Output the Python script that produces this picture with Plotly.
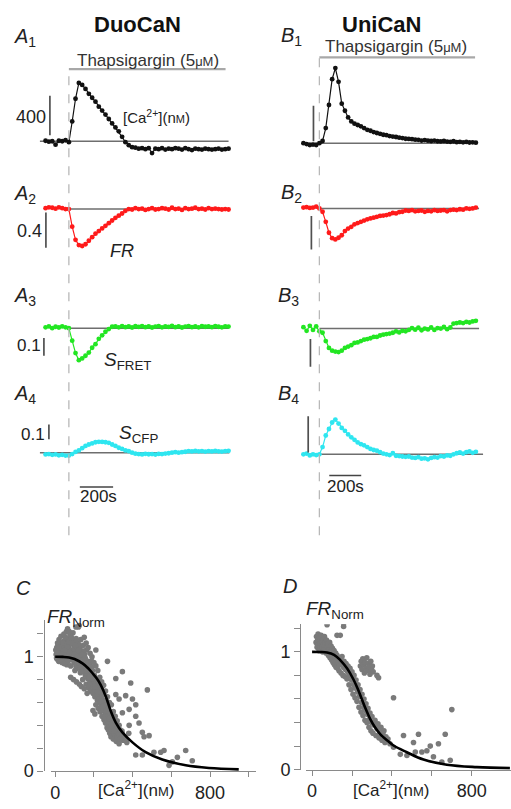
import plotly.graph_objects as go

# ---------------- DATA ----------------
# time grids (s, relative to thapsigargin application)
t_A = list(range(-140, 961, 20))
t_B = list(range(-100, 981, 20))

# DuoCaN traces
ca_A1 = [5, -5, 0, -35, 5, 0, 10, -10, 200, 430,
         590, 570, 530, 480, 440, 400, 350, 310, 270, 225,
         180, 140, 100, 45, -10, -40, -60, -65, -75, -70,
         -80, -70, -120, -75, -80, -70, -85, -75, -80, -70,
         -75, -85, -70, -80, -90, -75, -80, -85, -75, -80,
         -85, -80, -75, -85, -80, -75]
fr_A2 = [0.01, 0.02, 0.015, 0.005, 0.02, 0.01, 0.0, 0.0, -0.20, -0.35,
         -0.41, -0.42, -0.40, -0.36, -0.32, -0.28, -0.25, -0.22, -0.19, -0.16,
         -0.13, -0.10, -0.075, -0.05, -0.02, 0.0, -0.005, 0.01, 0.0, 0.005,
         -0.01, 0.0, 0.01, -0.005, 0.0, 0.01, 0.005, -0.005, 0.015, 0.0,
         0.005, -0.01, 0.01, 0.0, 0.005, 0.015, 0.0, 0.005, -0.005, 0.01,
         0.0, 0.005, 0.0, -0.005, 0.0, -0.005]
sfret_A3 = [0.005, 0.01, 0.0, 0.008, 0.004, 0.01, 0.005, 0.0, -0.07, -0.14,
            -0.18, -0.17, -0.155, -0.137, -0.11, -0.09, -0.06, -0.04, -0.02, -0.005,
            0.008, 0.01, 0.005, 0.012, 0.006, 0.01, 0.004, 0.011, 0.007, 0.012,
            0.006, 0.01, 0.004, 0.009, 0.012, 0.005, 0.01, 0.007, 0.013, 0.006,
            0.01, 0.004, 0.009, 0.012, 0.006, 0.01, 0.005, 0.011, 0.008, 0.01,
            0.006, 0.012, 0.008, 0.005, 0.01, 0.009]
scfp_A4 = [-0.012, -0.01, -0.015, -0.012, -0.018, -0.015, -0.02, -0.02, -0.01, 0.005,
           0.015, 0.03, 0.045, 0.055, 0.062, 0.07, 0.073, 0.072, 0.07, 0.066,
           0.055, 0.045, 0.033, 0.025, 0.015, 0.01, 0.0, -0.007, -0.01, -0.012,
           -0.008, -0.011, -0.01, -0.013, -0.009, -0.01, -0.006, -0.004, 0.0, 0.003,
           0.0, 0.003, 0.006, 0.01, 0.008, 0.011, 0.009, 0.01, 0.007, 0.01,
           0.008, 0.011, 0.009, 0.007, 0.01, 0.012]

# UniCaN traces
ca_B1 = [0, -10, -20, -15, -20, 0, 25, 170, 430, 720,
         845, 690, 445, 365, 290, 245, 220, 205, 190, 170,
         150, 140, 125, 115, 105, 95, 90, 80, 75, 70,
         62, 58, 50, 48, 45, 40, 38, 30, 35, 28,
         25, 30, 22, 20, 25, 18, 15, 22, 12, 15,
         10, 14, 8, 10, 6]
fr_B2 = [0.01, 0.015, 0.005, 0.01, 0.02, 0.0, -0.04, -0.16, -0.29, -0.355,
         -0.37, -0.35, -0.32, -0.27, -0.24, -0.22, -0.19, -0.175, -0.16, -0.145,
         -0.13, -0.12, -0.11, -0.10, -0.09, -0.085, -0.08, -0.07, -0.055, -0.06,
         -0.045, -0.04, -0.025, -0.03, -0.02, -0.035, -0.03, -0.025, -0.04, -0.03,
         -0.035, -0.02, -0.03, -0.025, -0.02, -0.035, -0.02, -0.015, -0.02, -0.01,
         -0.015, 0.0, -0.005, 0.0, 0.01]
sfret_B3 = [0.005, -0.008, 0.01, -0.005, 0.008, -0.01, -0.015, -0.045, -0.07, -0.08,
            -0.083, -0.085, -0.08, -0.07, -0.065, -0.06, -0.052, -0.05, -0.045, -0.04,
            -0.038, -0.035, -0.03, -0.03, -0.025, -0.022, -0.02, -0.018, -0.015, -0.01,
            -0.014, -0.008, -0.01, -0.005, 0.002, -0.004, 0.003, -0.006, 0.0, -0.003,
            0.004, -0.005, 0.002, 0.0, 0.006, -0.002, 0.004, 0.018, 0.02, 0.022,
            0.02, 0.024, 0.022, 0.026, 0.028]
scfp_B4 = [0.0, 0.002, -0.003, 0.0, -0.002, 0.0, 0.02, 0.052, 0.07, 0.088,
           0.096, 0.085, 0.073, 0.065, 0.055, 0.047, 0.04, 0.033, 0.028, 0.025,
           0.02, 0.015, 0.012, 0.01, 0.006, 0.002, 0.0, -0.002, 0.003, -0.004,
           -0.005, -0.006, -0.007, -0.006, -0.009, -0.01, -0.008, -0.012, -0.011, -0.014,
           -0.01, -0.008, -0.009, -0.005, -0.006, -0.003, -0.004, 0.0, 0.003, 0.005,
           0.002, 0.006, 0.008, 0.004, 0.007]

# scale-bar values (data units)
scalebar_A = {"ca": 400, "fr": 0.4, "sfret": 0.1, "scfp": 0.1}
scalebar_B = {"ca": 400, "fr": 0.4, "sfret": 0.1, "scfp": 0.1}
scalebar_time = 200

# C: DuoCaN FR_Norm vs [Ca2+] (nM)
pts_C = [(5,1.02),(8,1.08),(10,0.98),(12,1.12),(15,1.05),(18,0.96),(20,1.15),(22,1.01),(25,1.09),(28,0.99),
         (30,1.18),(32,1.04),(35,0.95),(38,1.12),(40,1.07),(42,1.00),(45,1.20),(48,1.14),(50,0.97),(52,1.05),
         (55,1.10),(58,1.22),(60,0.93),(62,1.02),(65,1.16),(68,1.08),(70,0.98),(72,1.22),(75,1.12),(78,1.04),
         (80,0.92),(82,1.18),(85,1.06),(88,0.99),(90,1.14),(92,1.21),(95,1.02),(98,0.95),(100,1.10),
         (102,0.88),(105,1.05),(108,1.16),(110,0.97),(112,1.08),(115,0.90),(118,1.12),(120,1.26),(122,1.00),(125,0.93),
         (128,1.07),(130,0.86),(132,1.15),(135,0.98),(138,1.03),(140,0.91),(142,0.80),(145,1.10),(148,0.95),(150,0.88),
         (152,1.02),(155,0.84),(158,0.93),(160,0.76),(162,1.06),(165,0.89),(168,0.81),(170,0.96),(172,0.73),(175,0.86),
         (178,0.92),(180,0.78),(182,0.70),(185,0.84),(188,0.96),(190,0.75),(192,0.88),(195,0.68),(198,0.80),(200,0.72),
         (202,0.84),(205,0.65),(208,0.77),(210,0.58),(212,0.70),(215,0.80),(218,0.62),(220,0.73),(222,0.55),(225,0.67),
         (228,0.76),(230,0.60),(232,0.52),(235,0.64),(238,0.71),(240,0.56),(242,0.48),(245,0.62),(248,0.53),(250,0.68),
         (252,0.45),(255,0.58),(258,0.50),(260,0.42),(262,0.62),(265,0.47),(268,0.38),(270,0.55),(272,0.44),(275,0.36),
         (278,0.51),(280,0.40),(282,0.33),(285,0.46),(288,0.30),(290,0.42),(295,0.35),(300,0.28),(305,0.38),(310,0.32),
         (315,0.26),(320,0.35),(325,0.29),(330,0.24),(340,0.31),(350,0.27),(360,0.30),(370,0.25),(380,0.33),
         (3,1.06),(7,0.99),(14,1.10),(17,1.03),(24,0.97),(27,1.13),(33,1.08),(37,1.01),(44,1.04),(47,0.94),
         (53,1.17),(57,1.00),(63,1.09),(67,0.96),(73,1.04),(77,1.19),(83,1.00),(87,1.11),(93,0.97),(97,1.07),
         (103,1.13),(107,0.92),(113,1.02),(117,0.95),(123,1.10),(127,0.90),(133,1.04),(137,0.87),(143,0.99),(147,1.05),
         (153,0.91),(157,0.97),(163,0.83),(167,0.94),(173,0.90),(177,0.80),(183,0.77),(187,0.91),(193,0.82),(197,0.74),
         (203,0.78),(207,0.70),(213,0.74),(217,0.67),(223,0.79),(227,0.63),(233,0.69),(237,0.58),(243,0.66),(247,0.60),
         (253,0.55),(257,0.47),(263,0.52),(267,0.58),(273,0.49),(277,0.43),(283,0.50),(287,0.37),(293,0.44),(297,0.39),
         (303,0.33),(308,0.42),(313,0.36),(318,0.30),(323,0.39),(328,0.33),(335,0.28),(345,0.35),(355,0.30),(365,0.27),
         (290,0.58),(300,0.52),(310,0.48),(320,0.44),(330,0.40),(335,0.36),(345,0.33),(280,0.60),(270,0.65),(260,0.70),
         (250,0.75),(240,0.78),(230,0.82),(220,0.88),(210,0.92),(200,0.95),(190,1.00),(180,1.03),(170,1.08),(160,1.12),
         (150,1.17),(80,0.82),(95,0.80),(110,0.78),(125,0.76),(135,0.74),(150,0.72),(165,0.68),(195,0.53),(205,0.50),
         (64,1.245),(72,1.216),(107,1.26),(124,1.274),
         (10,1.04),(20,1.08),(30,1.0),(40,1.12),(50,1.06),(60,1.1),(70,1.13),(85,1.16),(100,1.02),(115,1.0),
         (130,0.97),(145,0.93),(160,0.88),(175,0.82),(190,0.81),(205,0.74),(220,0.69),(235,0.61),(250,0.57),(265,0.53),
         (278,0.46),(292,0.40),(305,0.35),(88,1.12),(105,1.1),(120,1.06),(140,1.02),(155,0.99),(170,0.92),(185,0.88),
         (313,0.81),(347,0.87),(390,0.77),(399,0.63),(416,0.58),(382,0.54),(416,0.48),(450,0.34),(485,0.31),(476,0.71),
         (510,0.165),(545,0.165),(562,0.18),(605,0.08),(631,0.12),(674,0.18),(708,0.09),(450,0.14),(416,0.14),(270,0.96),
         (210,1.06),(313,0.67),(330,0.63),(364,0.66),(347,0.51),(382,0.40),(433,0.42),(459,0.30),(588,0.05)]
fitC_ca = [0, 40, 72, 100, 141, 170, 193, 215, 235, 261, 287, 313, 347, 399, 467, 553, 674, 794, 948]
fitC_fr = [1.0, 0.999, 0.994, 0.98, 0.942, 0.9, 0.856, 0.81, 0.755, 0.655, 0.525, 0.424, 0.338, 0.251, 0.165, 0.101, 0.05, 0.027, 0.015]

# D: UniCaN FR_Norm vs [Ca2+] (nM)
pts_D = [(20,1.08),(22,1.13),(25,1.04),(28,1.10),(30,1.15),(32,1.06),(35,1.01),(38,1.12),(40,1.07),(42,1.03),
         (45,1.14),(48,1.09),(50,1.04),(52,1.00),(55,1.11),(58,1.06),(60,1.02),(62,1.13),(65,1.08),(68,1.03),
         (70,0.99),(72,1.10),(75,1.05),(78,1.00),(80,1.07),(82,0.97),(85,1.02),(88,1.08),(90,0.95),(92,1.00),
         (95,1.05),(98,0.93),(100,0.98),(102,1.03),(105,0.91),(108,0.97),(110,1.01),(112,0.89),(115,0.95),(118,0.99),
         (120,0.87),(122,0.93),(125,0.97),(128,0.86),(130,0.91),(132,0.95),(135,0.84),(138,0.89),(140,0.94),
         (145,0.82),(148,0.90),(150,0.96),(155,0.80),(158,0.87),(160,0.92),(165,0.79),(168,0.85),(170,0.90),(175,0.77),
         (178,0.83),(180,0.88),(185,0.72),(188,0.80),(190,0.86),(195,0.68),(198,0.76),(200,0.83),(205,0.64),(208,0.72),
         (210,0.80),(215,0.61),(218,0.69),(220,0.76),(225,0.58),(228,0.66),(230,0.72),(235,0.53),(238,0.62),(240,0.68),
         (245,0.49),(248,0.57),(250,0.64),(255,0.46),(258,0.53),(260,0.60),(265,0.42),(268,0.50),(270,0.56),(275,0.40),
         (278,0.47),(280,0.52),(285,0.36),(288,0.43),(290,0.48),(295,0.33),(298,0.40),(300,0.45),(305,0.31),(310,0.38),
         (315,0.42),(320,0.29),(325,0.35),(330,0.39),(335,0.27),(340,0.32),(345,0.36),(350,0.25),(355,0.30),(360,0.33),
         (365,0.23),(370,0.28),(380,0.26),(390,0.22),
         (242,0.88),(246,0.92),(250,0.85),(254,0.94),(258,0.89),(262,0.82),(266,0.91),(270,0.86),(274,0.95),(278,0.84),
         (282,0.90),(286,0.87),(290,0.81),(294,0.92),(298,0.85),(302,0.88),(306,0.83),
         (75,1.23),(125,1.14),(141,1.14),(158,1.24),(158,1.215),
         (325,0.80),(333,0.78),(408,0.61),(700,0.51),(458,0.29),(533,0.30),(508,0.23),(592,0.20),(633,0.22),(667,0.30),
         (550,0.15),(575,0.16),(517,0.15),(692,0.08),(650,0.064),(608,0.11),(475,0.12),(408,0.19),(442,0.13)]
fitD_ca = [0, 40, 75, 110, 141, 175, 208, 230, 250, 270, 292, 315, 342, 375, 408, 475, 558, 675, 825, 991]
fitD_fr = [1.0, 0.999, 0.995, 0.975, 0.93, 0.86, 0.763, 0.68, 0.595, 0.51, 0.427, 0.36, 0.30, 0.25, 0.205, 0.148, 0.086, 0.042, 0.022, 0.013]

xticks_conc = [0, 200, 400, 600, 800, 1000]
xticklabels_conc = ["0", "", "", "", "800", ""]
yticks_norm = [0, 0.2, 0.4, 0.6, 0.8, 1.0, 1.2]
yticklabels_norm = ["0", "", "", "", "", "1", ""]

# ---------------- LAYOUT HELPERS ----------------
W, H = 511, 809
FONT = "Liberation Sans, Arial, sans-serif"
RED, GREEN, CYAN, BLACK = "#ff1a1a", "#22e622", "#2ee6f0", "#111111"
BASE_C, BAR_C, DASH_C, THAP_C = "#6e6e6e", "#505050", "#b8b8b8", "#a8a8a8"


def fx(px):
    return px / W


def fy(py):
    return 1 - py / H


def ref(i, k):
    return k + ("" if i == 1 else str(i))


def axkey(i, k):
    return k + "axis" + ("" if i == 1 else str(i))


layout = dict(width=W, height=H, margin=dict(l=0, r=0, t=0, b=0),
              paper_bgcolor="white", plot_bgcolor="rgba(0,0,0,0)",
              showlegend=False, font=dict(family=FONT, color="#222"))
fig = go.Figure()


def trace_panel(i, x0, s, xl, xr, base, k, yt, yb):
    layout[axkey(i, "x")] = dict(domain=[fx(xl), fx(xr)], range=[(xl - x0) * s, (xr - x0) * s],
                                 visible=False, anchor=ref(i, "y"))
    layout[axkey(i, "y")] = dict(domain=[fy(yb), fy(yt)], range=[(base - yb) / k, (base - yt) / k],
                                 visible=False, anchor=ref(i, "x"))


# column A: t=0 at x=68px, 6 s/px ; column B: t=0 at x=319px, 6.25 s/px
panels = [
    (1, 68, 6.0, 35, 235, 143.0, 0.1, 70, 160),
    (2, 68, 6.0, 35, 235, 211.7, 89, 195, 262),
    (3, 68, 6.0, 35, 235, 332.3, 180, 318, 372),
    (4, 68, 6.0, 35, 235, 458.3, 150, 425, 472),
    (5, 319, 6.25, 298, 490, 145.0, 0.09, 58, 158),
    (6, 319, 6.25, 298, 490, 211.0, 85, 195, 262),
    (7, 319, 6.25, 298, 490, 332.7, 280, 318, 378),
    (8, 319, 6.25, 298, 490, 460.0, 366, 415, 472),
]
for p in panels:
    trace_panel(*p)

series = [
    (1, t_A, ca_A1, BLACK, (-174, 960)),
    (2, t_A, fr_A2, RED, (0, 960)),
    (3, t_A, sfret_A3, GREEN, (0, 960)),
    (4, t_A, scfp_A4, CYAN, (-174, 965)),
    (5, t_B, ca_B1, BLACK, (-100, 985)),
    (6, t_B, fr_B2, RED, (0, 1000)),
    (7, t_B, sfret_B3, GREEN, (0, 1000)),
    (8, t_B, scfp_B4, CYAN, (-100, 1025)),
]
for i, t, v, col, (b0, b1) in series:
    assert len(t) == len(v), (i, len(t), len(v))
    fig.add_trace(go.Scatter(x=[b0, b1], y=[0, 0], mode="lines", xaxis=ref(i, "x"), yaxis=ref(i, "y"),
                             line=dict(color=BASE_C, width=1.5), hoverinfo="skip"))
    fig.add_trace(go.Scatter(x=t, y=v, mode="lines+markers", xaxis=ref(i, "x"), yaxis=ref(i, "y"),
                             line=dict(color=col, width=1.2), marker=dict(color=col, size=4.8),
                             cliponaxis=False))

# vertical scale bars (x position in s, value range)
bars = [
    (1, -114, 60, 60 + scalebar_A["ca"]),
    (2, -138, -0.04, -0.04 - scalebar_A["fr"]),
    (3, -150, -0.055, -0.055 - scalebar_A["sfret"]),
    (4, -120, 0.09, 0.09 + scalebar_A["scfp"]),
    (5, -37, 22, 22 + scalebar_B["ca"]),
    (6, -50, -0.09, -0.09 - scalebar_B["fr"]),
    (7, -56, -0.038, -0.038 - scalebar_B["sfret"]),
    (8, -70, 0.005, 0.005 + scalebar_B["scfp"]),
]
for i, tb, v0, v1 in bars:
    fig.add_trace(go.Scatter(x=[tb, tb], y=[v0, v1], mode="lines", xaxis=ref(i, "x"), yaxis=ref(i, "y"),
                             line=dict(color=BAR_C, width=1.7), hoverinfo="skip"))

shapes = []
# dashed stimulus lines
shapes.append(dict(type="line", xref="x", yref="paper", x0=0, x1=0, y0=fy(542), y1=fy(70),
                   line=dict(color=DASH_C, width=1.3, dash="dash")))
shapes.append(dict(type="line", xref="x5", yref="paper", x0=0, x1=0, y0=fy(542), y1=fy(58),
                   line=dict(color=DASH_C, width=1.3, dash="dash")))
# thapsigargin bars
shapes.append(dict(type="line", xref="x", yref="paper", x0=0, x1=942, y0=fy(70), y1=fy(70),
                   line=dict(color=THAP_C, width=2.2)))
shapes.append(dict(type="line", xref="x5", yref="paper", x0=0, x1=975, y0=fy(58), y1=fy(58),
                   line=dict(color=THAP_C, width=2.2)))
# time scale bars
shapes.append(dict(type="line", xref="x4", yref="paper", x0=66, x1=66 + scalebar_time, y0=fy(493), y1=fy(493),
                   line=dict(color="#444", width=1.5)))
shapes.append(dict(type="line", xref="x8", yref="paper", x0=62, x1=62 + scalebar_time, y0=fy(481.5), y1=fy(481.5),
                   line=dict(color="#444", width=1.5)))

# ---- C and D scatter panels ----
AXC = "#8a8a8a"


def conc_panel(i, xl, xr, x0px, pxper, ylinepx, ytop, yzero, pxunit):
    layout[axkey(i, "x")] = dict(domain=[fx(xl), min(1.0, fx(xr))],
                                 range=[(xl - x0px) / pxper, (xr - x0px) / pxper],
                                 anchor=ref(i, "y"), showline=True, linecolor=AXC, linewidth=1.4,
                                 ticks="outside", ticklen=5, tickwidth=1.4, tickcolor=AXC,
                                 tickvals=xticks_conc, ticktext=xticklabels_conc,
                                 tickfont=dict(size=18, color="#222", family=FONT),
                                 showgrid=False, zeroline=False)
    layout[axkey(i, "y")] = dict(domain=[fy(yzero), fy(ytop)], range=[0, (yzero - ytop) / pxunit],
                                 anchor="free", position=fx(ylinepx),
                                 showline=True, linecolor=AXC, linewidth=1.4,
                                 ticks="outside", ticklen=6, tickwidth=1.4, tickcolor=AXC,
                                 tickvals=yticks_norm, ticktext=yticklabels_norm,
                                 tickfont=dict(size=18, color="#222", family=FONT),
                                 showgrid=False, zeroline=False)


conc_panel(9, 50, 256, 54.3, 0.194, 42.7, 628, 780.7, 115.7)
conc_panel(10, 306, 511, 311.7, 0.2, 300, 632, 779.3, 119.3)

for i, pts, fca, ffr in [(9, pts_C, fitC_ca, fitC_fr), (10, pts_D, fitD_ca, fitD_fr)]:
    fig.add_trace(go.Scatter(x=[p[0] for p in pts], y=[p[1] for p in pts], mode="markers",
                             xaxis=ref(i, "x"), yaxis=ref(i, "y"),
                             marker=dict(color="#7a7a7a", size=5.6)))
    fig.add_trace(go.Scatter(x=fca, y=ffr, mode="lines", xaxis=ref(i, "x"), yaxis=ref(i, "y"),
                             line=dict(color="#000", width=2.6, shape="spline"), hoverinfo="skip"))

# ---------------- TEXT ----------------
ann = []


def A(text, xpx, ypx, size, xanchor="center", color="#222"):
    ann.append(dict(text=text, x=fx(xpx), y=fy(ypx), xref="paper", yref="paper", showarrow=False,
                    xanchor=xanchor, yanchor="middle", font=dict(size=size, color=color, family=FONT)))


A("<b>DuoCaN</b>", 137, 25, 22, color="#111")
A("<b>UniCaN</b>", 381, 25, 22, color="#111")
for lab, xp, yp in [("<i>A</i><sub>1</sub>", 11, 38), ("<i>A</i><sub>2</sub>", 11, 197),
                    ("<i>A</i><sub>3</sub>", 11, 300), ("<i>A</i><sub>4</sub>", 11, 399),
                    ("<i>B</i><sub>1</sub>", 279, 37), ("<i>B</i><sub>2</sub>", 279, 196),
                    ("<i>B</i><sub>3</sub>", 276, 300), ("<i>B</i><sub>4</sub>", 276, 399)]:
    A(lab, xp, yp, 20, xanchor="left")
A("<i>C</i>", 13, 595, 20, xanchor="left")
A("<i>D</i>", 281, 593, 20, xanchor="left")

A("Thapsigargin (5" + "<span style='font-size:13px'>\u03bcM</span>" + ")", 147, 61, 17, color="#333")
A("Thapsigargin (5" + "<span style='font-size:13px'>\u03bcM</span>" + ")", 396, 47, 17, color="#333")
A("400", 47, 118, 18, xanchor="right")
A("0.4", 43, 234, 18, xanchor="right")
A("0.1", 42, 350, 17, xanchor="right")
A("0.1", 46, 440, 17, xanchor="right")
A("[Ca<sup>2+</sup>](n" + "<span style='font-size:11px'>M</span>" + ")", 120, 118, 15, xanchor="left")
A("<i>FR</i>", 107, 254, 18, xanchor="left")
A("<i>S</i><sub>FRET</sub>", 101, 366, 19, xanchor="left")
A("<i>S</i><sub>CFP</sub>", 116, 439, 19, xanchor="left")
A("200s", 98, 503, 17)
A("200s", 345, 493, 17)
A("<i>FR</i><sub>Norm</sub>", 44, 626, 19, xanchor="left")
A("<i>FR</i><sub>Norm</sub>", 304, 618, 19, xanchor="left")
A("[Ca<sup>2+</sup>](n" + "<span style='font-size:13px'>M</span>" + ")", 135, 799, 17)
A("[Ca<sup>2+</sup>](n" + "<span style='font-size:13px'>M</span>" + ")", 391, 799, 17)

layout["shapes"] = shapes
layout["annotations"] = ann
fig.update_layout(**layout)
fig.write_html("out.html")
